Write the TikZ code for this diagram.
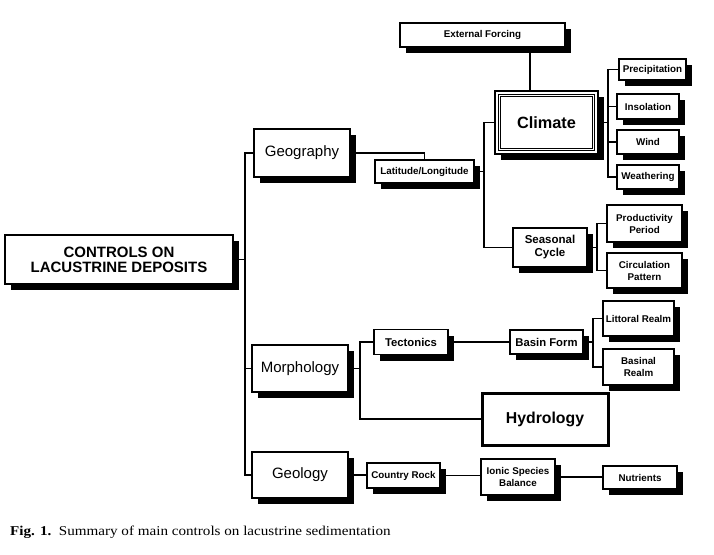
\documentclass[tikz,border=0pt]{standalone}
\usepackage{fontspec}
\setmainfont{Liberation Sans}
\newfontfamily\capfont{Liberation Serif}
\usetikzlibrary{shadows,calc}
\begin{document}
\begin{tikzpicture}[x=1pt,y=-1pt,
  box/.style={draw, line width=1.1pt, fill=white, inner sep=0pt, align=center,
     drop shadow={shadow xshift=6pt, shadow yshift=-6pt, fill=black, opacity=1}},
  sbox/.style={box, font=\fontsize{9.8}{12}\selectfont\bfseries},
  mbox/.style={box, font=\fontsize{11.3}{13}\selectfont\bfseries},
  lbox/.style={box, font=\fontsize{15}{16}\selectfont},
  conn/.style={line width=1.1pt}]
\useasboundingbox (0,0) rectangle (714,554);

% main
\node[box, font=\fontsize{15}{15}\selectfont\bfseries, minimum width=228pt, minimum height=49pt] (main) at (119,259.5) {CONTROLS ON\\LACUSTRINE DEPOSITS};

% level 1
\node[lbox, minimum width=96pt, minimum height=48pt] (geog) at (302,153) {Geography};
\node[lbox, minimum width=96pt, minimum height=47pt] (morph) at (300,368.5) {Morphology};
\node[lbox, minimum width=96pt, minimum height=46pt] (geol) at (300,475) {Geology};

% geography branch
\node[sbox, minimum width=99pt, minimum height=23pt] (ll) at (424.5,171.5) {Latitude/Longitude};
\node[sbox, minimum width=165pt, minimum height=24pt] (ef) at (482.5,35) {External Forcing};
\node[box, line width=1.5pt, font=\fontsize{16.3}{18}\selectfont\bfseries, minimum width=103pt, minimum height=63pt] (clim) at (546.5,122.5) {Climate};
\draw[line width=0.8pt] ($(clim.north west)+(4,4)$) rectangle ($(clim.south east)+(-4,-4)$);
\draw[line width=0.8pt] ($(clim.north west)+(6.5,6.5)$) rectangle ($(clim.south east)+(-6.5,-6.5)$);
\node[sbox, minimum width=67pt, minimum height=21pt] (prec) at (652.5,69.5) {Precipitation};
\node[sbox, minimum width=62pt, minimum height=25pt] (ins) at (648,106.5) {Insolation};
\node[sbox, minimum width=62pt, minimum height=24pt] (wind) at (648,142) {Wind};
\node[sbox, minimum width=62pt, minimum height=24pt] (weath) at (648,177) {Weathering};
\node[mbox, font=\fontsize{11.5}{13}\selectfont\bfseries, minimum width=74pt, minimum height=39pt] (sc) at (550,247.5) {Seasonal\\Cycle};
\node[sbox, minimum width=75pt, minimum height=37pt] (prod) at (644.5,223.5) {Productivity\\Period};
\node[sbox, minimum width=75pt, minimum height=35pt] (circ) at (644.5,270.5) {Circulation\\Pattern};

% morphology branch
\node[mbox, minimum width=74pt, minimum height=25pt] (tect) at (411,342) {Tectonics};
\node[mbox, minimum width=73pt, minimum height=24pt] (bf) at (546.5,342) {Basin Form};
\node[sbox, minimum width=71pt, minimum height=35pt] (lit) at (638.5,318.5) {Littoral Realm};
\node[sbox, minimum width=71pt, minimum height=36pt] (bas) at (638.5,367) {Basinal\\Realm};
\node[draw, line width=3pt, fill=white, inner sep=0pt, font=\fontsize{15.8}{18}\selectfont\bfseries, minimum width=126pt, minimum height=52pt] (hyd) at (545,419) {Hydrology};

% geology branch
\node[sbox, minimum width=73pt, minimum height=25pt] (cr) at (403.5,475.5) {Country Rock};
\node[sbox, minimum width=74pt, minimum height=36pt] (ion) at (518,477) {Ionic Species\\Balance};
\node[sbox, minimum width=74pt, minimum height=23pt] (nut) at (640,477.5) {Nutrients};

% connector coordinates
\coordinate (tk) at (245,0);
\coordinate (v1) at (484,0);
\coordinate (efc) at (530,0);
\coordinate (v2) at (608,0);
\coordinate (v3) at (597,0);
\coordinate (v4) at (360,0);
\coordinate (v5) at (593,0);

\begin{scope}[conn]
\draw (geog.west) -- (geog.west -| tk) -- (geol.west -| tk) -- (geol.west);
\draw (main.east) -- (main.east -| tk);
\draw (morph.west) -- (morph.west -| tk);

\draw (geog.east) -| (ll.north);
\draw (ll.east) -- (ll.east -| v1);
\draw (clim.west) -- (clim.west -| v1) -- (sc.west -| v1) -- (sc.west);
\draw (ef.south -| efc) -- (clim.north -| efc);
\draw (clim.east) -- (clim.east -| v2);
\draw (prec.west) -- (prec.west -| v2) -- (weath.west -| v2) -- (weath.west);
\draw (ins.west) -- (ins.west -| v2);
\draw (wind.west) -- (wind.west -| v2);
\draw (sc.east) -- (sc.east -| v3);
\draw (prod.west) -- (prod.west -| v3) -- (circ.west -| v3) -- (circ.west);

\draw (morph.east) -- (morph.east -| v4);
\draw (tect.west) -- (tect.west -| v4) -- (hyd.west -| v4) -- (hyd.west);
\draw (tect.east) -- (bf.west);
\draw (bf.east) -- (bf.east -| v5);
\draw (lit.west) -- (lit.west -| v5) -- (bas.west -| v5) -- (bas.west);

\draw (geol.east) -- (geol.east -| cr.west);
\draw (cr.east) -- (cr.east -| ion.west);
\draw (ion.east) -- (ion.east -| nut.west);
\end{scope}

% caption
\node[anchor=base west, inner sep=0pt, font=\capfont\fontsize{13.5}{15}\selectfont] (cap) at (10,535) {\scalebox{1.12}[1]{\textbf{Fig. 1.}\hspace{0.5em}Summary of main controls on lacustrine sedimentation}};
\end{tikzpicture}
\end{document}
